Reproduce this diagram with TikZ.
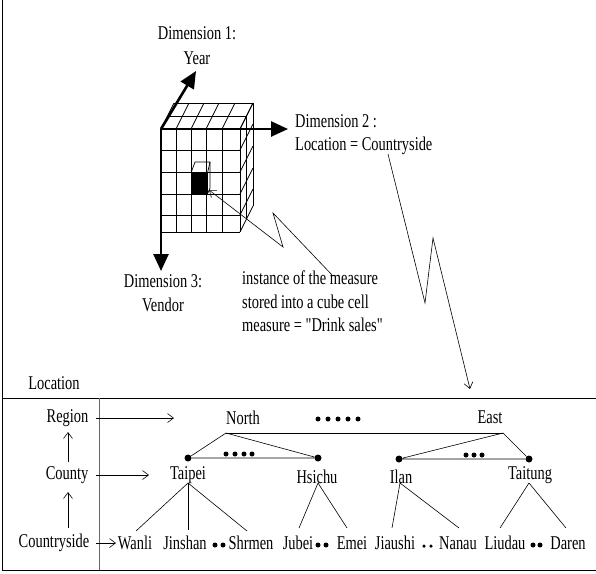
\documentclass[tikz,border=0pt]{standalone}
\usepackage{fontspec}
\newfontfamily\labelfont{Liberation Serif}[FakeStretch=0.74]
\usetikzlibrary{arrows.meta}

\begin{document}
\begin{tikzpicture}[x=1pt,y=-1pt,
  every node/.style={inner sep=0pt},
  lbl/.style={font=\labelfont\fontsize{19.5}{24.5}\selectfont, align=center},
  lbll/.style={font=\labelfont\fontsize{19.5}{23.5}\selectfont, align=left},
  axis/.style={line width=2.6pt, -{Triangle[length=17pt,width=15pt]}},
  grid/.style={line width=0.7pt},
  thin/.style={line width=0.6pt},
  pointer/.style={line width=0.6pt, -{Straight Barb[length=6pt,width=9pt]}},
  knot/.style={circle, fill, minimum size=7pt},
  dot/.style={circle, fill, minimum size=5pt},
  sdot/.style={circle, fill, minimum size=3.5pt}]

\useasboundingbox (0,0) rectangle (596,573);

% ---------- frame of the hierarchy panel ----------
\draw[line width=0.9pt] (2,0) -- (2,570) -- (596,570);
\draw[line width=0.9pt] (2,398) -- (596,398);
\draw[line width=0.9pt, black!60] (99,398) -- (99,570);

% ---------- data cube ----------
% front face
\foreach \x in {161,176,191,206,222,240} \draw[grid] (\x,129) -- (\x,232);
\foreach \y in {129,150,172,194,215,232} \draw[grid] (161,\y) -- (240,\y);
% top face
\foreach \x in {161,176,191,206,222,240} \draw[grid] (\x,129) -- (\x+13,103);
\foreach \k in {1,2} \draw[grid] (161+6.5*\k,129-13*\k) -- (240+6.5*\k,129-13*\k);
% right face
\foreach \y in {129,150,172,194,215,232} \draw[grid] (240,\y) -- (253,\y-26);
\foreach \k in {1,2} \draw[grid] (240+6.5*\k,129-13*\k) -- (240+6.5*\k,232-13*\k);

% highlighted cell
\fill (191,173) rectangle (207.5,194);
\draw[grid] (191,173) -- (195,162) -- (210,162) -- (207.5,173);
\draw[grid] (210,162) -- (210,188) -- (207.5,194);
\coordinate (cell) at (209,190);

% axes
\coordinate (origin) at (161,129);
\coordinate (d1) at (196,71);
\coordinate (d2) at (288,129);
\coordinate (d3) at (161,271);
\draw[axis] (origin) -- (d1);
\draw[axis] (origin) -- (d2);
\draw[axis] (origin) -- (d3);

\node[lbl] (dim1) at (197,45.5) {Dimension 1:\\Year};
\node[lbll, anchor=west] (dim2) at (295,134.5) {Dimension 2 :\\Location = Countryside};
\node[lbl] (dim3) at (163,293) {Dimension 3:\\Vendor};
\node[lbll, anchor=west] (meas) at (242,301.5)
  {instance of the measure\\stored into a cube cell\\measure = "Drink sales"};

% pointers with zigzag
\coordinate (m0) at (333,276);
\coordinate (m1) at (273,213);
\coordinate (m2) at (283,247);
\draw[pointer] (m0) -- (m1) -- (m2) -- (cell);

\coordinate (c0) at (388,154);
\coordinate (c1) at (425,303);
\coordinate (c2) at (433,238);
\coordinate (c3) at (470,389);
\draw[pointer] (c0) -- (c1) -- (c2) -- (c3);

% ---------- location hierarchy ----------
\node[lbl] (loc) at (54,383) {Location};
\node[lbl] (region) at (67.5,418) {Region};
\node[lbl] (county) at (67,475) {County};
\node[lbl] (cside) at (54,543) {Countryside};

\coordinate (cuA) at (68,462);
\coordinate (cuB) at (68,432);
\coordinate (suA) at (68,528);
\coordinate (suB) at (68,492);
\draw[pointer] (cuA) -- (cuB);
\draw[pointer] (suA) -- (suB);

\coordinate (rA) at (96,418);
\coordinate (rB) at (174,418);
\coordinate (cA) at (96,475);
\coordinate (cB) at (149,475);
\coordinate (sA) at (96,543);
\coordinate (sB) at (116,543);
\draw[pointer] (rA) -- (rB);
\draw[pointer] (cA) -- (cB);
\draw[pointer] (sA) -- (sB);

% regions
\node[lbl] (north) at (243,418) {North};
\node[lbl] (east) at (490,417) {East};
\foreach \x [count=\i] in {318,328,338,348,358} \node[dot] (rd\i) at (\x,419) {};
\coordinate (nap) at (226,433);
\coordinate (eap) at (503,433);
\draw[thin] (nap) -- (eap);

% counties
\node[knot] (ktp) at (188,458) {};
\node[knot] (khc) at (318,458) {};
\node[knot] (kil) at (399,459) {};
\node[knot] (ktt) at (529,459) {};
\draw[thin] (ktp) -- (nap) -- (khc) -- (ktp);
\draw[thin] (kil) -- (eap) -- (ktt) -- (kil);
\foreach \x [count=\i] in {226,235,244,252} \node[dot] (nd\i) at (\x,454) {};
\foreach \x [count=\i] in {466,474,482} \node[dot] (ed\i) at (\x,455) {};

\node[lbl] (taipei) at (188,475) {Taipei};
\node[lbl] (hsichu) at (317,477) {Hsichu};
\node[lbl] (ilan) at (401,477) {Ilan};
\node[lbl] (taitung) at (530,475) {Taitung};
\coordinate (tpa) at (188,483);
\coordinate (hca) at (318,483);
\coordinate (ila) at (400,483);
\coordinate (tta) at (529,483);

% countryside leaves
\node[lbl] (wanli) at (135,543) {Wanli};
\node[lbl] (jinshan) at (185,543) {Jinshan};
\node[lbl] (shrmen) at (251,543) {Shrmen};
\node[lbl] (jubei) at (298,543) {Jubei};
\node[lbl] (emei) at (352,543) {Emei};
\node[lbl] (jiaushi) at (395,543) {Jiaushi};
\node[lbl] (nanau) at (458,543) {Nanau};
\node[lbl] (liudau) at (505,543) {Liudau};
\node[lbl] (daren) at (568,543) {Daren};

\node[dot] (ld1) at (215,545) {};
\node[dot] (ld2) at (223,545) {};
\node[dot] (ld3) at (318,545) {};
\node[dot] (ld4) at (326,545) {};
\node[sdot] (ld5) at (424,546) {};
\node[sdot] (ld6) at (431,546) {};
\node[dot] (ld7) at (533,545) {};
\node[dot] (ld8) at (540,545) {};

\coordinate (wt) at (136,531);
\coordinate (jt) at (188,530);
\coordinate (st) at (247,531);
\coordinate (jbt) at (299,528);
\coordinate (emt) at (347,528);
\coordinate (jst) at (392,528);
\coordinate (nnt) at (459,528);
\coordinate (ldt) at (500,528);
\coordinate (drt) at (566,528);
\draw[thin] (tpa) -- (wt);
\draw[thin] (tpa) -- (jt);
\draw[thin] (tpa) -- (st);
\draw[thin] (hca) -- (jbt);
\draw[thin] (hca) -- (emt);
\draw[thin] (ila) -- (jst);
\draw[thin] (ila) -- (nnt);
\draw[thin] (tta) -- (ldt);
\draw[thin] (tta) -- (drt);
\end{tikzpicture}
\end{document}
